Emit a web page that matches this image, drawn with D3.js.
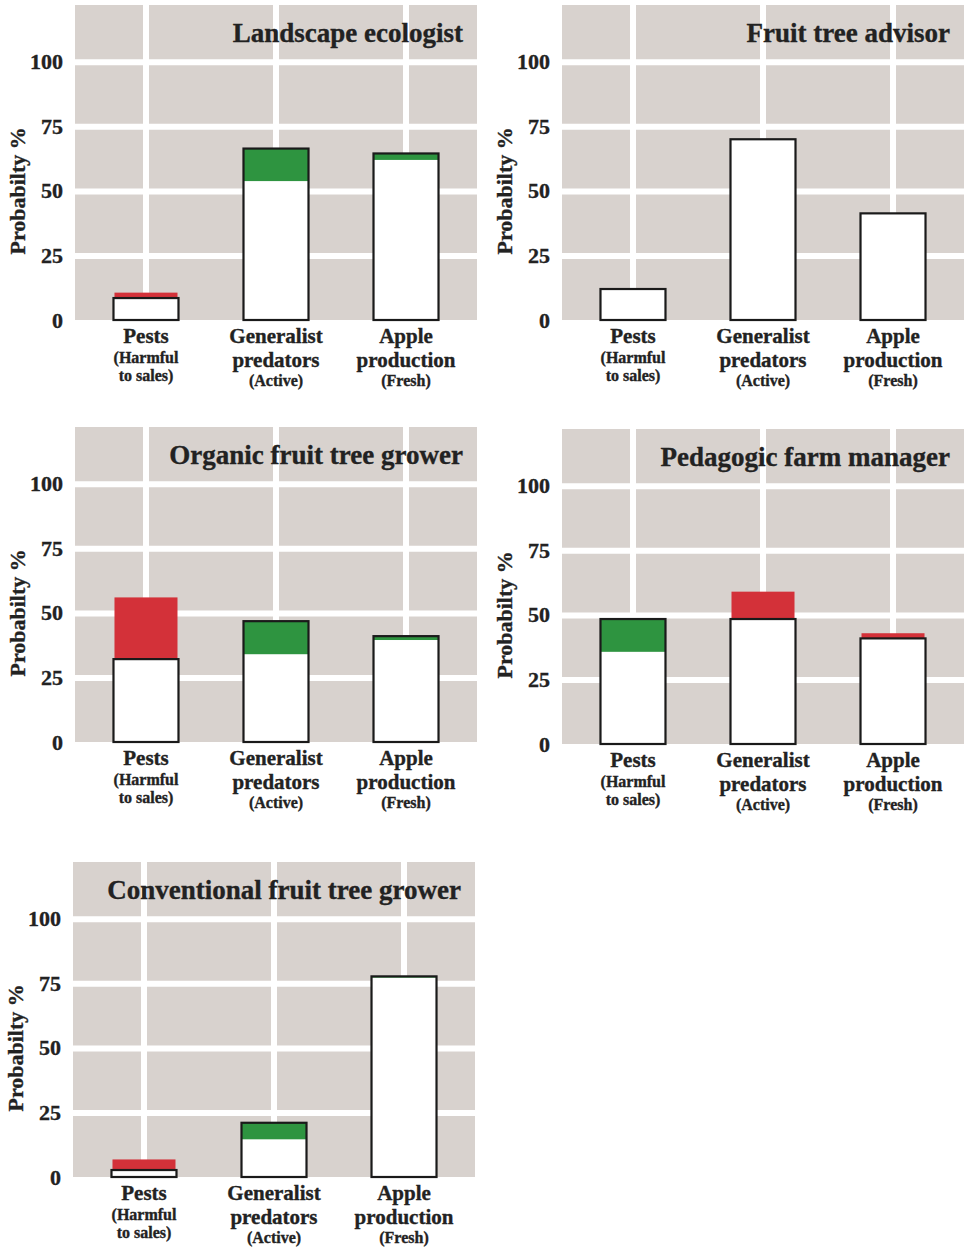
<!DOCTYPE html>
<html>
<head>
<meta charset="utf-8">
<script src="https://cdn.jsdelivr.net/npm/d3@7"></script>
<style>
  body { margin: 0; background: #fff; }
  text { font-family: "Liberation Serif", "Times New Roman", serif; font-weight: bold; fill: #222; stroke: #222; stroke-width: 0.35px; }
</style>
</head>
<body>
<script>
// chart data
var titles = ["Landscape ecologist", "Fruit tree advisor", "Organic fruit tree grower",
              "Pedagogic farm manager", "Conventional fruit tree grower"];
var categories = ["Pests", "Generalist", "Apple"];
var catLabels = [["Pests", "(Harmful", "to sales)"],
                 ["Generalist", "predators", "(Active)"],
                 ["Apple", "production", "(Fresh)"]];
// outlined bar = prior value, second value = value after evidence
var priorValues = [[8.5, 66.4, 64.5], [12, 70, 41.3], [32.1, 46.8, 41.0], [48.4, 48.4, 40.9], [2.7, 21.0, 77.7]];
var newValues   = [[10.6, 53.8, 62.0], [12, 70, 41.3], [56.0, 34.0, 39.5], [35.7, 59.0, 42.9], [6.8, 14.6, 77.2]];
var yTicks = [0, 25, 50, 75, 100];
var yLabel = "Probabilty %";

var W = 964, H = 1248;
var panelW = 402, panelH = 315;
// grey plot origin (left x, zero line y) for each panel
var lefts = [75, 562, 75, 562, 73];
var zeros = [320, 320, 742, 744, 1177];

var grey = "#d8d2ce", red = "#d33139", green = "#2e9440";

var svg = d3.select("body").append("svg")
    .attr("width", W)
    .attr("height", H)

titles.forEach(function(title, p) {
  var x0 = lefts[p], z = zeros[p];
  var g = svg.append("g").attr("transform", "translate(" + x0 + "," + (z - panelH) + ")");

  var y = d3.scaleLinear().domain([0, 122]).range([panelH, 0]);
  var x = d3.scaleBand().domain(categories).range([0, panelW])
      .paddingInner(0.5).paddingOuter(0.296);

  g.append("rect").attr("width", panelW).attr("height", panelH).attr("fill", grey);

  // white grid
  g.append("g").call(d3.axisLeft(y).tickValues(yTicks.slice(1)).tickSize(-panelW).tickFormat(""))
    .call(function(s) { s.select(".domain").remove(); })
    .selectAll("line").attr("stroke", "#fff").attr("stroke-width", 6);
  g.append("g").attr("transform", "translate(0," + panelH + ")")
    .call(d3.axisBottom(x).tickSize(-panelH).tickFormat(""))
    .call(function(s) { s.select(".domain").remove(); })
    .selectAll("line").attr("stroke", "#fff").attr("stroke-width", 6);

  // y tick labels
  g.append("g").call(d3.axisLeft(y).tickValues(yTicks).tickSize(0).tickPadding(12))
    .call(function(s) { s.select(".domain").remove(); })
    .selectAll("text").style("font-size", "22px").attr("fill", "#222");

  g.append("text")
    .attr("transform", "translate(" + (-50) + "," + y(50) + ") rotate(-90)")
    .attr("text-anchor", "middle")
    .style("font-size", "22px")
    .text(yLabel);

  g.append("text")
    .attr("x", panelW - 14)
    .attr("y", panelH - 278)
    .attr("text-anchor", "end")
    .style("font-size", "27px")
    .text(title);

  var bars = categories.map(function(c, i) {
    return { cat: c, prior: priorValues[p][i], now: newValues[p][i] };
  });

  var b = g.selectAll(".bar").data(bars).enter().append("g").attr("class", "bar");
  var bw = x.bandwidth();

  b.append("rect")
    .attr("x", function(d) { return x(d.cat); })
    .attr("y", function(d) { return y(d.prior); })
    .attr("width", bw)
    .attr("height", function(d) { return y(0) - y(d.prior); })
    .attr("fill", "#fff");

  // decrease: green inside the outlined bar
  b.filter(function(d) { return d.now < d.prior; }).append("rect")
    .attr("x", function(d) { return x(d.cat); })
    .attr("y", function(d) { return y(d.prior); })
    .attr("width", bw)
    .attr("height", function(d) { return y(d.now) - y(d.prior); })
    .attr("fill", green);

  // increase: red on top of the outlined bar
  b.filter(function(d) { return d.now > d.prior; }).append("rect")
    .attr("x", function(d) { return x(d.cat) + 1; })
    .attr("y", function(d) { return y(d.now); })
    .attr("width", bw - 2)
    .attr("height", function(d) { return y(d.prior) - y(d.now); })
    .attr("fill", red);

  b.append("rect")
    .attr("x", function(d) { return x(d.cat); })
    .attr("y", function(d) { return y(d.prior); })
    .attr("width", bw)
    .attr("height", function(d) { return y(0) - y(d.prior); })
    .attr("fill", "none")
    .attr("stroke", "#1a1a1a")
    .attr("stroke-width", 2.2);

  // category labels
  categories.forEach(function(c, i) {
    var lines = catLabels[i];
    var cx = x(c) + bw / 2;
    var small = i == 0 ? [false, true, true] : [false, false, true];
    var dy = i == 0 ? [23, 43, 61] : [23, 47, 66];
    lines.forEach(function(t, k) {
      g.append("text")
        .attr("x", cx)
        .attr("y", panelH + dy[k])
        .attr("text-anchor", "middle")
        .style("font-size", small[k] ? "16px" : "21px")
        .text(t);
    });
  });
});
</script>
</body>
</html>
